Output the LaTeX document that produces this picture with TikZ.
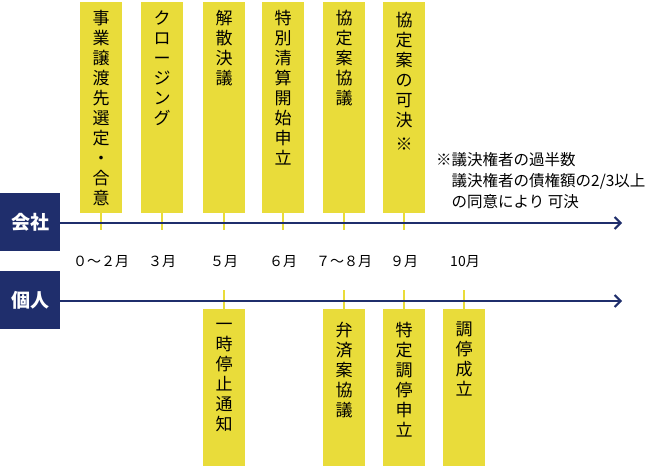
\documentclass[tikz,border=0pt]{standalone}
\usepackage{fontspec}
\setmainfont{Noto Sans CJK JP}
\usetikzlibrary{arrows.meta}
\definecolor{ylw}{HTML}{E9DC3A}
\definecolor{navy}{HTML}{1F2E6C}
\tikzset{
  ybox/.style={fill=ylw, minimum width=42pt, inner sep=0pt, anchor=north},
  vtext/.style={align=center, inner sep=0pt, anchor=north, text=black, font=\fontsize{17}{20}\selectfont},
  tickline/.style={draw=ylw, line width=2pt},
  side/.style={fill=navy, text=white, minimum width=60pt, minimum height=58pt, inner sep=0pt, font=\fontsize{19}{19}\selectfont\bfseries},
  tline/.style={draw=navy, line width=2.2pt, -{Straight Barb[length=6pt,width=12pt,line width=2pt]}},
  month/.style={font=\fontsize{14}{14}\selectfont, inner sep=0pt, text=black},
  note/.style={font=\fontsize{15.5}{21}\selectfont, align=left, inner sep=0pt, anchor=north west, text=black}
}
\begin{document}
\begin{tikzpicture}[x=1pt,y=-1pt]
\useasboundingbox (0,0) rectangle (666,466);
% side labels
\node[side] (kaisha) at (30,222) {会社};
\node[side] (kojin) at (30,300) {個人};
% timelines
\coordinate (kend) at (622,223);
\coordinate (pend) at (622,301);
% top boxes
\node[ybox, minimum height=211pt] (t1) at (101,2) {};
\node[ybox, minimum height=211pt] (t2) at (162,2) {};
\node[ybox, minimum height=211pt] (t3) at (224,2) {};
\node[ybox, minimum height=211pt] (t4) at (283,2) {};
\node[ybox, minimum height=211pt] (t5) at (344,2) {};
\node[ybox, minimum height=211pt] (t6) at (404,2) {};
\node[vtext] (tx1) at ([yshift=-8pt]t1.north) {事\\業\\譲\\渡\\先\\選\\定\\・\\合\\意};
\node[vtext] (tx2) at ([yshift=-9pt]t2.north) {ク\\ロ\\ー\\ジ\\ン\\グ};
\node[vtext] (tx3) at ([yshift=-8pt]t3.north) {解\\散\\決\\議};
\node[vtext] (tx4) at ([yshift=-8pt]t4.north) {特\\別\\清\\算\\開\\始\\申\\立};
\node[vtext] (tx5) at ([yshift=-8pt]t5.north) {協\\定\\案\\協\\議};
\node[vtext] (tx6) at ([yshift=-10pt]t6.north) {協\\定\\案\\の\\可\\決\\[4pt]※};
% top ticks
\foreach \i in {1,...,6} {
  \coordinate (tt\i) at ([yshift=-17pt]t\i.south);
  \draw[tickline] (t\i.south) -- (tt\i);
}
% bottom boxes
\node[ybox, minimum height=157pt] (b1) at (224,309) {};
\node[ybox, minimum height=157pt] (b2) at (344,309) {};
\node[ybox, minimum height=157pt] (b3) at (404,309) {};
\node[ybox, minimum height=157pt] (b4) at (464,309) {};
\node[vtext] (bx1) at ([yshift=-14pt]b1.north) {一\\時\\停\\止\\通\\知};
\node[vtext] (bx2) at ([yshift=-13pt]b2.north) {弁\\済\\案\\協\\議};
\node[vtext] (bx3) at ([yshift=-13pt]b3.north) {特\\定\\調\\停\\申\\立};
\node[vtext] (bx4) at ([yshift=-13pt]b4.north) {調\\停\\成\\立};
\foreach \i in {1,...,4} {
  \coordinate (bt\i) at ([yshift=19pt]b\i.north);
  \draw[tickline] (bt\i) -- (b\i.north);
}
% lines
\draw[tline] (kaisha.east |- kend) -- (kend);
\draw[tline] (kojin.east |- pend) -- (pend);
% months
\node[month] (m1) at (101,262) {０～２月};
\node[month] (m2) at (162,262) {３月};
\node[month] (m3) at (224,262) {５月};
\node[month] (m4) at (283,262) {６月};
\node[month] (m5) at (344,262) {７～８月};
\node[month] (m6) at (404,262) {９月};
\node[month] (m7) at (465,262) {10月};
% note
\node[note] (nt) at (436,152) {※議決権者の過半数\\\hspace*{1em}議決権者の債権額の2/3以上\\\hspace*{1em}の同意により 可決};
\end{tikzpicture}
\end{document}
